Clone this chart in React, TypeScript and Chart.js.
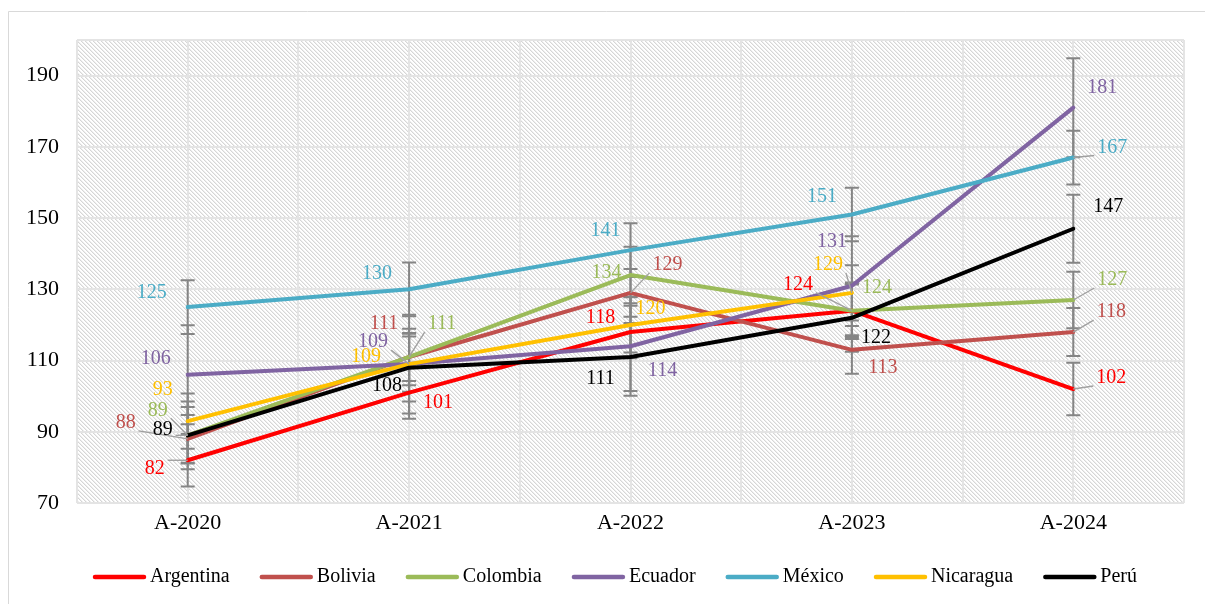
import React, { useEffect, useRef } from "react";
import { Chart, registerables } from "chart.js";

Chart.register(...registerables);

const categories = ["A-2020", "A-2021", "A-2022", "A-2023", "A-2024"];

const argentina = [82, 101, 118, 124, 102];
const bolivia = [88, 111, 129, 113, 118];
const colombia = [89, 111, 134, 124, 127];
const ecuador = [106, 109, 114, 131, 181];
const mexico = [125, 130, 141, 151, 167];
const nicaragua = [93, 109, 120, 129, null];
const peru = [89, 108, 111, 122, 147];

const seriesNames = ["Argentina", "Bolivia", "Colombia", "Ecuador", "México", "Nicaragua", "Perú"];
const seriesValues = [argentina, bolivia, colombia, ecuador, mexico, nicaragua, peru];
const seriesColors = ["#FF0000", "#C0504D", "#9BBB59", "#8064A2", "#4BACC6", "#FFC000", "#000000"];
// standard error of each series (error bar half-length)
const seriesErrors = [7.36, 6.72, 7.93, 13.89, 7.54, 7.75, 9.52];

const yTicks = [70, 90, 110, 130, 150, 170, 190];

// label placement (offset from the point, px) and leader flags
const LABEL_OFFSETS = [
  [[-33, 8], [29, 10], [-30, -14], [-54, -26], [38, -11]],
  [[-62, -16], [-25, -33], [37, -28], [31, 18], [38, -20]],
  [[-30, -25], [33, -33], [-24, -2], [25, -23], [39, -20]],
  [[-32, -16], [-36, -22], [32, 24], [-20, -44], [29, -20]],
  [[-36, -14], [-32, -16], [-25, -19], [-30, -18], [39, -10]],
  [[-25, -31], [-43, -7], [20, -16], [-24, -28], [0, 0]],
  [[-25, -6], [-22, 18], [-30, 22], [24, 20], [35, -22]],
];
const LEADERS = [
  [1, 0, 0, 1, 1],
  [1, 0, 1, 0, 1],
  [1, 1, 0, 0, 1],
  [0, 1, 0, 0, 0],
  [0, 0, 0, 0, 1],
  [0, 0, 0, 1, 0],
  [1, 0, 0, 0, 0],
];

const FONT = '"Liberation Serif", "Times New Roman", serif';

function makeHatch(): CanvasPattern | string {
  const c = document.createElement("canvas");
  c.width = 4;
  c.height = 4;
  const cx = c.getContext("2d");
  if (!cx) return "#eeeeee";
  const img = cx.createImageData(4, 4);
  for (let y = 0; y < 4; y++) {
    for (let x = 0; x < 4; x++) {
      const k = (((x - y) % 4) + 4) % 4;
      let v = 255;
      if (k === 0) v = 214;
      else if (k === 1) v = 238;
      const o = (y * 4 + x) * 4;
      img.data[o] = v;
      img.data[o + 1] = v;
      img.data[o + 2] = v;
      img.data[o + 3] = 255;
    }
  }
  cx.putImageData(img, 0, 0);
  const p = cx.createPattern(c, "repeat");
  return p || "#eeeeee";
}

const bgPlugin = {
  id: "bgPlugin",
  beforeDraw(chart: any) {
    const { ctx, chartArea: a } = chart;
    ctx.save();
    ctx.fillStyle = "#ffffff";
    ctx.fillRect(0, 0, chart.width, chart.height);
    ctx.strokeStyle = "#d9d9d9";
    ctx.lineWidth = 1;
    ctx.beginPath();
    ctx.moveTo(8.5, chart.height);
    ctx.lineTo(8.5, 11.5);
    ctx.lineTo(chart.width, 11.5);
    ctx.stroke();

    ctx.fillStyle = makeHatch();
    ctx.fillRect(a.left, a.top, a.right - a.left, a.bottom - a.top);

    ctx.strokeStyle = "#e4e4e4";
    ctx.lineWidth = 2;
    const ys = chart.scales.y;
    for (const t of yTicks) {
      const y = Math.round(ys.getPixelForValue(t));
      ctx.beginPath();
      ctx.moveTo(a.left, y);
      ctx.lineTo(a.right, y);
      ctx.stroke();
    }
    const n = categories.length * 2;
    for (let k = 0; k <= n; k++) {
      const x = Math.round(a.left + ((a.right - a.left) * k) / n);
      ctx.beginPath();
      ctx.moveTo(x, a.top);
      ctx.lineTo(x, a.bottom);
      ctx.stroke();
    }
    ctx.beginPath();
    ctx.moveTo(a.left, a.top);
    ctx.lineTo(a.right, a.top);
    ctx.moveTo(a.left, a.bottom);
    ctx.lineTo(a.right, a.bottom);
    ctx.stroke();
    ctx.restore();
  },
};

const errorBarPlugin = {
  id: "errorBarPlugin",
  beforeDatasetsDraw(chart: any) {
    const { ctx } = chart;
    const ys = chart.scales.y;
    ctx.save();
    ctx.strokeStyle = "#858585";
    ctx.lineWidth = 2;
    seriesValues.forEach((vals, s) => {
      const meta = chart.getDatasetMeta(s);
      vals.forEach((v, i) => {
        if (v === null || v === undefined) return;
        const x = meta.data[i].x;
        const e = seriesErrors[s];
        const y1 = ys.getPixelForValue(v + e);
        const y2 = ys.getPixelForValue(v - e);
        ctx.beginPath();
        ctx.moveTo(x, y1);
        ctx.lineTo(x, y2);
        ctx.moveTo(x - 7, y1);
        ctx.lineTo(x + 7, y1);
        ctx.moveTo(x - 7, y2);
        ctx.lineTo(x + 7, y2);
        ctx.stroke();
      });
    });
    ctx.restore();
  },
};

const labelPlugin = {
  id: "labelPlugin",
  afterDatasetsDraw(chart: any) {
    const { ctx } = chart;
    ctx.save();
    ctx.font = `20px ${FONT}`;
    ctx.textAlign = "center";
    ctx.textBaseline = "middle";
    seriesValues.forEach((vals, s) => {
      const meta = chart.getDatasetMeta(s);
      vals.forEach((v, i) => {
        if (v === null || v === undefined) return;
        const x = meta.data[i].x;
        const y = meta.data[i].y;
        const [dx, dy] = LABEL_OFFSETS[s][i];
        const lx = x + dx;
        const ly = y + dy;
        const text = String(v);
        const w = ctx.measureText(text).width;
        if (LEADERS[s][i]) {
          const l = lx - w / 2 - 3;
          const r = lx + w / 2 + 3;
          const t = ly - 8;
          const b = ly + 8;
          const nx = Math.min(Math.max(x, l), r);
          const ny = Math.min(Math.max(y, t), b);
          ctx.strokeStyle = "#a0a0a0";
          ctx.lineWidth = 1.4;
          ctx.beginPath();
          ctx.moveTo(x, y);
          ctx.lineTo(nx, ny);
          ctx.stroke();
        }
        ctx.fillStyle = seriesColors[s];
        ctx.fillText(text, lx, ly);
      });
    });
    ctx.restore();
  },
};

const legendPlugin = {
  id: "legendPlugin",
  afterDraw(chart: any) {
    const { ctx } = chart;
    ctx.save();
    ctx.font = `20px ${FONT}`;
    ctx.textBaseline = "middle";
    ctx.textAlign = "left";
    const lineW = 53;
    const gapText = 4;
    const startX = 93;
    const endX = 1137;
    const widths = seriesNames.map((n) => ctx.measureText(n).width);
    let used = 0;
    widths.forEach((w) => {
      used += lineW + gapText + w;
    });
    const gapItem = (endX - startX - used) / (widths.length - 1);
    let x = startX;
    const y = 577;
    seriesNames.forEach((name, i) => {
      ctx.strokeStyle = seriesColors[i];
      ctx.lineWidth = 4.5;
      ctx.lineCap = "round";
      ctx.beginPath();
      ctx.moveTo(x + 2, y);
      ctx.lineTo(x + lineW - 2, y);
      ctx.stroke();
      ctx.fillStyle = "#000000";
      ctx.fillText(name, x + lineW + gapText, y);
      x += lineW + gapText + widths[i] + gapItem;
    });
    ctx.restore();
  },
};

export default function App() {
  const ref = useRef<HTMLCanvasElement | null>(null);
  useEffect(() => {
    if (!ref.current) return;
    const n = seriesNames.length;
    const chart = new Chart(ref.current, {
      type: "line",
      data: {
        labels: categories,
        datasets: seriesNames.map((name, i) => ({
          label: name,
          data: seriesValues[i],
          borderColor: seriesColors[i],
          backgroundColor: seriesColors[i],
          borderWidth: 4,
          pointRadius: 0,
          pointHoverRadius: 0,
          tension: 0,
          fill: false,
          spanGaps: false,
          borderCapStyle: "round",
          borderJoinStyle: "round",
          order: n - i,
        })),
      },
      options: {
        responsive: false,
        animation: false,
        events: [],
        layout: { padding: { left: 0, right: 21, top: 40, bottom: 0 } },
        plugins: {
          legend: { display: false },
          tooltip: { enabled: false },
        },
        scales: {
          x: {
            type: "category",
            offset: true,
            grid: { display: false, drawTicks: false },
            border: { display: false },
            ticks: { color: "#000000", font: { family: FONT, size: 22 }, padding: 7 },
            afterFit(s: any) {
              s.height = 101;
            },
          },
          y: {
            min: 70,
            max: 200,
            grid: { display: false, drawTicks: false },
            border: { display: false },
            ticks: { stepSize: 20, color: "#000000", font: { family: FONT, size: 22 }, padding: 18 },
            afterBuildTicks(s: any) {
              s.ticks = yTicks.map((v) => ({ value: v }));
            },
            afterFit(s: any) {
              s.width = 77;
            },
          },
        },
      },
      plugins: [bgPlugin, errorBarPlugin, labelPlugin, legendPlugin],
    } as any);
    return () => chart.destroy();
  }, []);
  return (
    <div style={{ position: "fixed", left: 0, top: 0, width: 1205, height: 604, background: "#fff" }}>
      <canvas ref={ref} width={1205} height={604} style={{ display: "block" }} />
    </div>
  );
}
